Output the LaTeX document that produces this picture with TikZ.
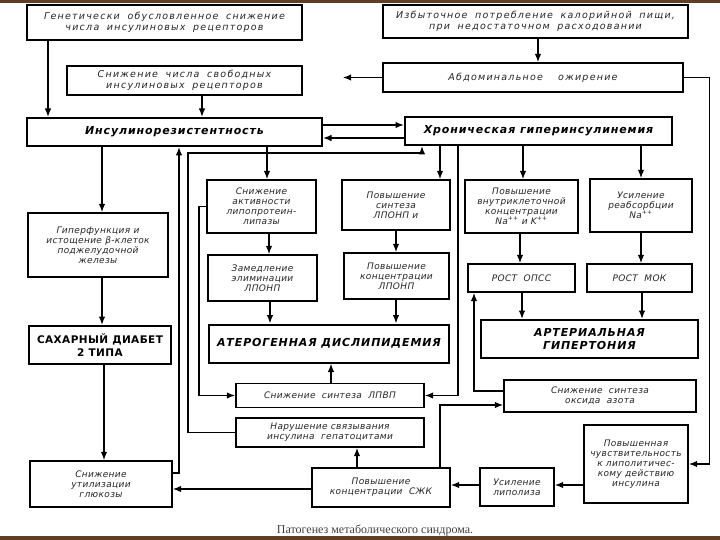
\documentclass[tikz,border=0pt]{standalone}
\usepackage{fontspec}
\setmainfont{Liberation Serif}
\newfontfamily\hand[LetterSpace=4]{DejaVu Sans}
\newfontfamily\handwide[LetterSpace=13,WordSpace=1.8]{DejaVu Sans}
\newfontfamily\handbold[LetterSpace=8]{DejaVu Sans}
\usetikzlibrary{arrows.meta}
\definecolor{rim}{RGB}{96,62,36}
\tikzset{
  blk/.style={draw, line width=1.4pt, align=center, inner sep=1pt, text=black!85,
    font=\hand\itshape\fontsize{9}{10}\selectfont},
  wblk/.style={blk, font=\handwide\itshape\fontsize{9.5}{11}\selectfont},
  bblk/.style={blk, line width=2pt, text=black, font=\handbold\bfseries\itshape\fontsize{11}{13}\selectfont},
  sz/.style n args={2}{minimum width=#1pt, minimum height=#2pt},
  ln/.style={line width=1.4pt},
  arr/.style={line width=1.4pt, -{Latex[length=8.5pt,width=6.5pt]}}
}

\begin{document}
\begin{tikzpicture}[x=1pt,y=-1pt]
  \useasboundingbox (0,0) rectangle (720,540);
  \fill[white] (0,0) rectangle (720,540);
  \fill[rim] (0,0) rectangle (720,3); \fill[rim] (0,536) rectangle (720,540);

  \node[wblk, sz={275}{35}] (gen) at (164.5,22.5) {Генетически обусловленное снижение\\числа инсулиновых рецепторов};
  \node[wblk, sz={305}{33}] (exc) at (535.5,21.5) {Избыточное потребление калорийной пищи,\\при недостаточном расходовании};
  \node[wblk, sz={235}{29}] (rec) at (184.5,80.5) {Снижение числа свободных\\инсулиновых рецепторов};
  \node[wblk, sz={300}{29}] (abd) at (533,77.5) {Абдоминальное \ ожирение};
  \node[bblk, sz={295}{28}] (ir) at (174.5,132) {Инсулинорезистентность};
  \node[bblk, sz={267}{28}] (hi) at (538.5,131) {Хроническая гиперинсулинемия};

  \node[blk, sz={140}{64}] (hyp) at (98,245) {Гиперфункция и\\истощение β-клеток\\поджелудочной\\железы};
  \node[bblk, sz={142}{38}, font=\hand\bfseries\fontsize{10.5}{13}\selectfont] (dm) at (100,345) {САХАРНЫЙ ДИАБЕТ\\2 ТИПА};
  \node[blk, sz={142}{46}] (glu) at (101,484) {Снижение\\утилизации\\глюкозы};

  \node[blk, sz={109}{53}] (lpl) at (261.5,206.5) {Снижение\\активности\\липопротеин-\\липазы};
  \node[blk, sz={108}{50}] (vsyn) at (396,205) {Повышение\\синтеза\\ЛПОНП и};
  \node[blk, sz={109}{46}] (elim) at (262.5,278) {Замедление\\элиминации\\ЛПОНП};
  \node[blk, sz={105}{46}] (vcon) at (396.5,276) {Повышение\\концентрации\\ЛПОНП};
  \node[bblk, sz={240}{38}] (ath) at (329,343.5) {АТЕРОГЕННАЯ ДИСЛИПИДЕМИЯ};
  \node[blk, sz={188}{24}] (hdl) at (330,395.5) {Снижение \ синтеза \ ЛПВП};
  \node[blk, sz={188}{29}] (bind) at (330,432.5) {Нарушение связывания\\инсулина \ гепатоцитами};
  \node[blk, sz={138}{39}] (ffa) at (381,487.5) {Повышение\\концентрации \ СЖК};

  \node[blk, sz={113}{53}] (nak) at (521.5,206.5) {Повышение\\внутриклеточной\\концентрации\\Na\textsuperscript{++} и K\textsuperscript{++}};
  \node[blk, sz={102}{53}] (nar) at (641,205.5) {Усиление\\реабсорбции\\Na\textsuperscript{++}};
  \node[blk, sz={107}{28}] (opss) at (521.5,278) {РОСТ \ ОПСС};
  \node[blk, sz={105}{28}] (mok) at (639.5,278) {РОСТ \ МОК};
  \node[bblk, sz={217}{38}] (ah) at (589.5,339) {АРТЕРИАЛЬНАЯ\\ГИПЕРТОНИЯ};
  \node[blk, sz={192}{32}] (no) at (600,396) {Снижение \ синтеза\\оксида \ азота};
  \node[blk, sz={104}{78}] (sens) at (636,464) {Повышенная\\чувствительность\\к липолитичес-\\кому действию\\инсулина};
  \node[blk, sz={74}{38}] (lip) at (517,487) {Усиление\\липолиза};

  \node[text=black!75, font=\fontsize{12}{13}\selectfont] (cap) at (375,530) {Патогенез метаболического синдрома.};

  \coordinate (fbk) at (188,153);

  \draw[arr] (gen.south -| 48,0) -- (ir.north -| 48,0);
  \draw[arr] (rec.south -| 202,0) -- (ir.north -| 202,0);
  \draw[arr] (exc.south -| 538,0) -- (abd.north -| 538,0);
  \draw[arr, shorten >=40pt] (abd.west) -- (abd.west -| rec.east);
  \draw[arr] (abd.east) -- ++(26,0) |- (sens.east);
  \draw[arr] (ir.east |- 0,125) -- (hi.west |- 0,125);
  \draw[arr] (hi.west |- 0,138) -- (ir.east |- 0,138);

  \draw[arr] (ir.south -| 102,0) -- (hyp.north -| 102,0);
  \draw[arr] (hyp.south -| 102,0) -- (dm.north -| 102,0);
  \draw[arr] (dm.south -| 104,0) -- (glu.north -| 104,0);
  \draw[arr] (ir.south -| 267,0) -- (lpl.north -| 267,0);
  \draw[arr] (hi.south -| 440,0) -- (vsyn.north -| 440,0);
  \draw[arr] (hi.south -| 523,0) -- (nak.north -| 523,0);
  \draw[arr] (hi.south -| 641,0) -- (nar.north -| 641,0);

  \draw[arr] (lpl.south -| 269,0) -- (elim.north -| 269,0);
  \draw[arr] (elim.south -| 270,0) -- (ath.north -| 270,0);
  \draw[arr] (vsyn.south -| 396,0) -- (vcon.north -| 396,0);
  \draw[arr] (vcon.south -| 396,0) -- (ath.north -| 396,0);
  \draw[arr] (hdl.north -| 331,0) -- (ath.south -| 331,0);
  \draw[arr] (nak.south -| 520,0) -- (opss.north -| 520,0);
  \draw[arr] (nar.south -| 641,0) -- (mok.north -| 641,0);
  \draw[arr] (opss.south -| 522,0) -- (ah.north -| 522,0);
  \draw[arr] (mok.south -| 642,0) -- (ah.north -| 642,0);

  \draw[arr] (ffa.north -| 357,0) -- (bind.south -| 357,0);
  \draw[arr] (ffa.west |- 0,489) -- (glu.east |- 0,489);
  \draw[arr] (sens.west |- 0,485) -- (lip.east |- 0,485);
  \draw[arr] (lip.west |- 0,485) -- (ffa.east |- 0,485);

  \draw[arr] (glu.east |- 0,473) -| (ir.south -| 179,0);
  \draw[arr] (bind.west) -| (fbk) -| (hi.south -| 422,0);
  \draw[arr] (lpl.west) -- (lpl.west -| 199,0) |- (hdl.west);
  \draw[arr] (hi.south -| 458,0) |- (hdl.east);
  \draw[arr] (ffa.north -| 440,0) |- ([yshift=-9pt]no.west);
  \draw[arr] ([yshift=5pt]no.west) -| (opss.south -| 474,0);
\end{tikzpicture}
\end{document}
